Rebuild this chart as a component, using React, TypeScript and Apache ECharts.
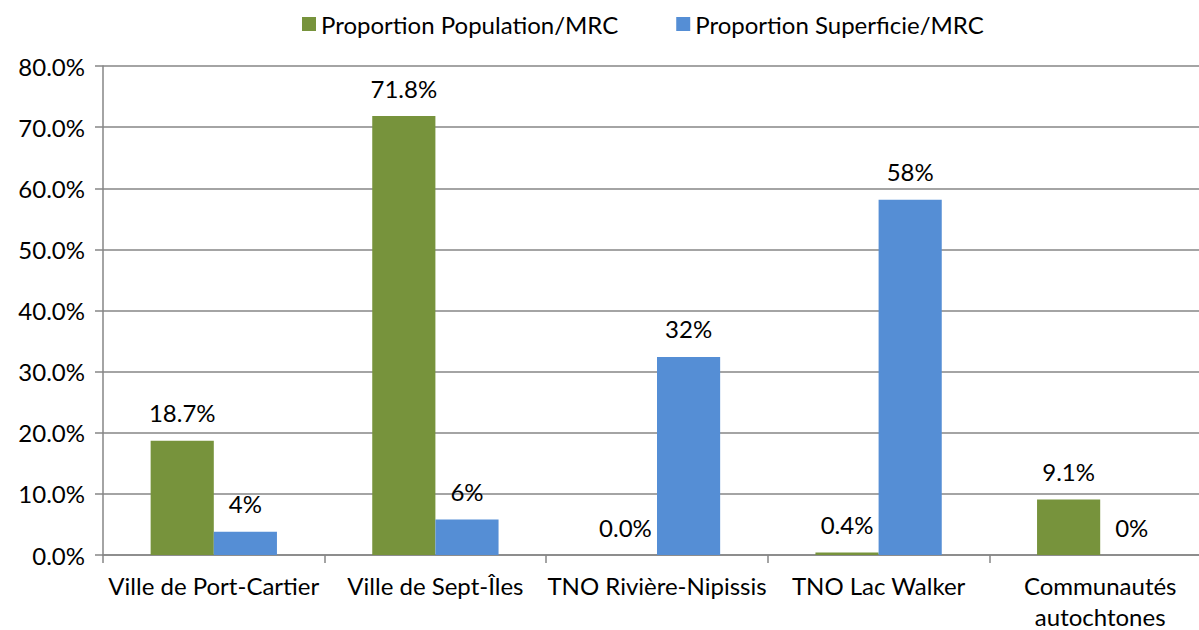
import React, { useEffect, useRef } from "react";
import * as echarts from "echarts";

const categories = [
  "Ville de Port-Cartier",
  "Ville de Sept-Îles",
  "TNO Rivière-Nipissis",
  "TNO Lac Walker",
  "Communautés autochtones",
];
const populationValues = [18.7, 71.8, 0.0, 0.4, 9.1];
const superficieValues = [3.8, 5.8, 32.4, 58.1, 0.0];
const seriesNames = ["Proportion Population/MRC", "Proportion Superficie/MRC"];
const yTicks = { min: 0, max: 80, interval: 10 };

const FONT = "Lato";
const FS = 24;

export default function App() {
  const ref = useRef<HTMLDivElement>(null);
  useEffect(() => {
    if (!ref.current) return;
    const chart = echarts.init(ref.current, undefined, { renderer: "svg" });
    chart.setOption({
      animation: false,
      textStyle: { fontFamily: FONT },
      legend: {
        left: 302,
        top: 12,
        padding: 0,
        itemWidth: 14,
        itemHeight: 14,
        itemGap: 58,
        icon: "rect",
        textStyle: { fontFamily: FONT, fontSize: FS, color: "#000" },
        data: seriesNames,
      },
      grid: { left: 103, right: 20, top: 66, bottom: 75, containLabel: false, outerBoundsMode: "none" },
      xAxis: {
        type: "category",
        data: categories,
        axisLine: { lineStyle: { color: "#868686", width: 1.5 } },
        axisTick: { show: true, length: 8, lineStyle: { color: "#868686", width: 1.5 } },
        axisLabel: {
          fontFamily: FONT,
          fontSize: FS,
          color: "#000",
          margin: 15,
          lineHeight: 31,
          interval: 0,
          formatter: (v: string) => (v.length > 22 ? v.replace(" ", "\n") : v),
        },
      },
      yAxis: {
        type: "value",
        min: yTicks.min,
        max: yTicks.max,
        interval: yTicks.interval,
        axisLine: { show: true, lineStyle: { color: "#868686", width: 1.5 } },
        axisTick: { show: true, length: 8, lineStyle: { color: "#868686", width: 1.5 } },
        splitLine: { lineStyle: { color: "#868686", width: 1.5 } },
        axisLabel: {
          fontFamily: FONT,
          fontSize: FS,
          color: "#000",
          margin: 18,
          formatter: (v: number) => v.toFixed(1) + "%",
        },
      },
      series: [
        {
          name: seriesNames[0],
          type: "bar",
          data: populationValues,
          barGap: "0%",
          barCategoryGap: "43%",
          itemStyle: { color: "#77933C" },
          label: {
            show: true,
            position: "top",
            distance: 16,
            fontFamily: FONT,
            fontSize: FS,
            color: "#000",
            formatter: (p: any) => p.value.toFixed(1) + "%",
          },
        },
        {
          name: seriesNames[1],
          type: "bar",
          data: superficieValues,
          barGap: "0%",
          barCategoryGap: "43%",
          itemStyle: { color: "#558ED5" },
          label: {
            show: true,
            position: "top",
            distance: 16,
            fontFamily: FONT,
            fontSize: FS,
            color: "#000",
            formatter: (p: any) => Math.round(p.value) + "%",
          },
        },
      ],
    });
    return () => chart.dispose();
  }, []);
  return (
    <div style={{ position: "fixed", left: 0, top: 0, width: 1199, height: 630, overflow: "hidden", background: "#fff" }}>
      <div ref={ref} style={{ width: 1231, height: 630 }} />
    </div>
  );
}
